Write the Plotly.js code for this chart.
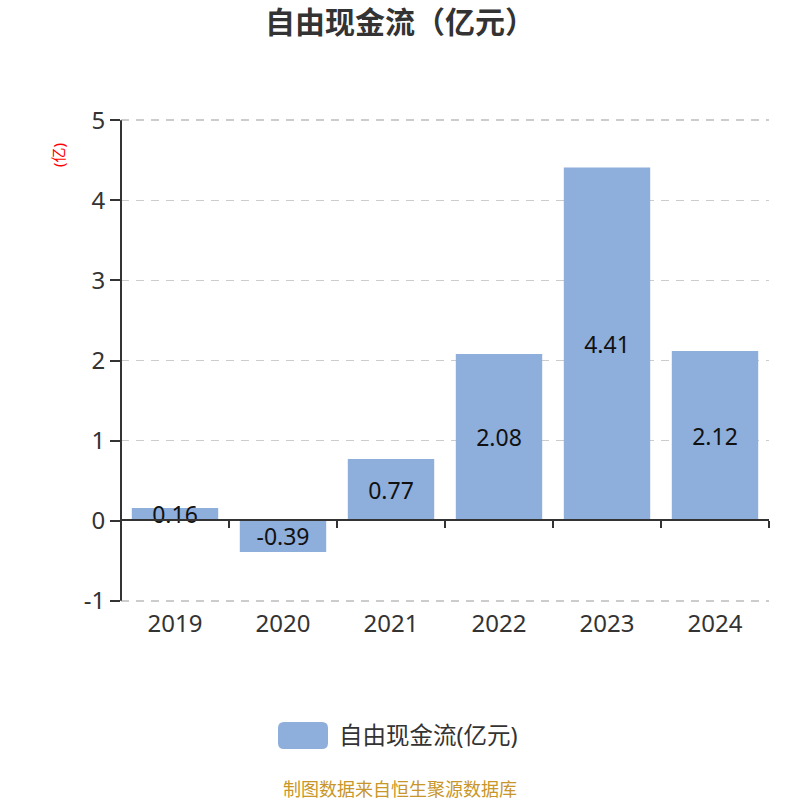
<!DOCTYPE html>
<html>
<head>
<meta charset="utf-8">
<script src="https://cdn.plot.ly/plotly-3.0.1.min.js"></script>
<style>
  html, body { margin: 0; padding: 0; background: #fff; }
  #chart { width: 800px; height: 800px; }
</style>
</head>
<body>
<div id="chart"></div>
<script>
var years = ['2019', '2020', '2021', '2022', '2023', '2024'];
var freeCashFlow = [0.16, -0.39, 0.77, 2.08, 4.41, 2.12];
var yTickVals = [-1, 0, 1, 2, 3, 4, 5];
var yTickText = ['-1', '0', '1', '2', '3', '4', '5'];
var seriesName = '自由现金流(亿元)';
var chartTitle = '自由现金流（亿元）';
var unitLabel = '(亿)';
var sourceNote = '制图数据来自恒生聚源数据库';

var font = '"Noto Sans", "Noto Sans CJK SC", sans-serif';
var barColor = '#8eaedb';

// plot box in px: left 121, right 769, top 117, bottom 604
var plotW = 648, plotH = 487;
function px(x) { return (x - 121) / plotW; }
function py(y) { return (604 - y) / plotH; }

var bars = {
  x: years,
  y: freeCashFlow,
  type: 'bar',
  name: seriesName,
  width: 0.8,
  marker: { color: barColor },
  text: freeCashFlow.map(function(v) { return v.toFixed(2); }),
  textposition: 'inside',
  insidetextanchor: 'middle',
  constraintext: 'none',
  textfont: { size: 23, color: '#111' },
  hoverinfo: 'x+y',
  showlegend: false
};

function roundedRect(x0, y0, x1, y1, r) {
  var rx = r / plotW, ry = r / plotH;
  return 'M' + (x0 + rx) + ',' + y0 +
    ' L' + (x1 - rx) + ',' + y0 + ' Q' + x1 + ',' + y0 + ' ' + x1 + ',' + (y0 - ry) +
    ' L' + x1 + ',' + (y1 + ry) + ' Q' + x1 + ',' + y1 + ' ' + (x1 - rx) + ',' + y1 +
    ' L' + (x0 + rx) + ',' + y1 + ' Q' + x0 + ',' + y1 + ' ' + x0 + ',' + (y1 + ry) +
    ' L' + x0 + ',' + (y0 - ry) + ' Q' + x0 + ',' + y0 + ' ' + (x0 + rx) + ',' + y0 + ' Z';
}

var layout = {
  width: 800,
  height: 800,
  margin: { l: 121, r: 31, t: 117, b: 196 },
  paper_bgcolor: '#fff',
  plot_bgcolor: '#fff',
  font: { family: font, color: '#333' },
  title: {
    text: '<b>' + chartTitle + '</b>',
    font: { size: 30, color: '#333', family: font },
    x: 0.5,
    xanchor: 'center',
    y: 0.972,
    yanchor: 'middle'
  },
  xaxis: {
    type: 'category',
    anchor: 'free',
    position: py(520),
    showline: true,
    linecolor: '#333',
    linewidth: 2,
    ticks: 'outside',
    tickson: 'boundaries',
    ticklen: 7,
    tickcolor: '#333',
    tickwidth: 2,
    ticklabelstandoff: 82,
    tickfont: { size: 24, color: '#333' },
    showgrid: false,
    zeroline: false,
    fixedrange: true
  },
  yaxis: {
    range: [-1.04, 5.04],
    tickmode: 'array',
    tickvals: yTickVals,
    ticktext: yTickText,
    showline: false,
    ticks: 'outside',
    ticklen: 10,
    tickcolor: '#333',
    tickwidth: 2,
    tickfont: { size: 24, color: '#333' },
    showgrid: true,
    gridcolor: '#cccccc',
    griddash: '8px,7px',
    gridwidth: 1.5,
    zeroline: false,
    fixedrange: true
  },
  showlegend: false,
  shapes: [
    {
      // y axis spine from -1 to 5
      type: 'line',
      xref: 'paper', yref: 'y',
      x0: 0, x1: 0, y0: -1, y1: 5,
      line: { color: '#333', width: 2 }
    },
    {
      type: 'path',
      xref: 'paper', yref: 'paper',
      path: roundedRect(px(278), py(722), px(328), py(749), 6),
      fillcolor: barColor,
      line: { width: 0 }
    }
  ],
  annotations: [
    {
      text: seriesName,
      xref: 'paper', yref: 'paper',
      x: px(337), y: py(735),
      xanchor: 'left', yanchor: 'middle',
      showarrow: false,
      font: { size: 23.5, color: '#333' }
    },
    {
      text: unitLabel,
      xref: 'paper', yref: 'paper',
      x: px(58), y: py(155),
      xanchor: 'center', yanchor: 'middle',
      textangle: -90,
      showarrow: false,
      font: { size: 15, color: '#ff0000' }
    },
    {
      text: sourceNote,
      xref: 'paper', yref: 'paper',
      x: px(400), y: py(789),
      xanchor: 'center', yanchor: 'middle',
      showarrow: false,
      font: { size: 18, color: '#c8962a' }
    }
  ],
  bargap: 0.2
};

Plotly.newPlot('chart', [bars], layout, { displayModeBar: false, staticPlot: true });
</script>
</body>
</html>
